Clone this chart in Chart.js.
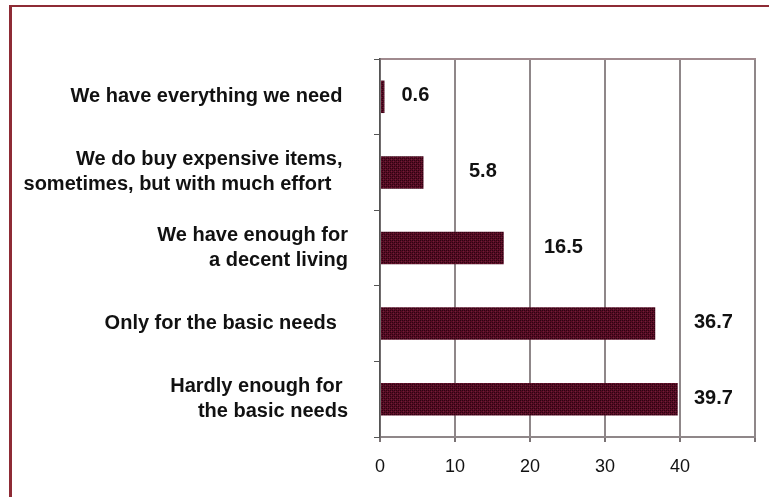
<!DOCTYPE html>
<html>
<head>
<meta charset="utf-8">
<script src="https://cdn.jsdelivr.net/npm/chart.js@4/dist/chart.umd.min.js"></script>
<style>
  html, body { margin: 0; padding: 0; background: #fff; }
  #wrap { position: relative; width: 769px; height: 497px; overflow: hidden; }
  #frame {
    position: absolute; left: 9px; top: 5px; right: -10px; bottom: -10px;
    border-left: 3px solid #8e2b35; border-top: 2px solid #8e2b35;
  }
  #c { position: absolute; left: 0; top: 0; }
</style>
</head>
<body>
<div id="wrap">
  <div id="frame"></div>
  <canvas id="c" width="769" height="497"></canvas>
</div>
<script>
// Survey answers (top to bottom) and the share of respondents, in %
const categories = [
  ['We have everything we need '],
  ['We do buy expensive items, ', 'sometimes, but with much effort   '],
  ['We have enough for', 'a decent living'],
  ['Only for the basic needs  '],
  ['Hardly enough for ', 'the basic needs']
];
const values = [0.6, 5.8, 16.5, 36.7, 39.7];
const xTickLabels = [0, 10, 20, 30, 40];
const xMax = 50;

const FONT = '"Liberation Sans", Arial, Helvetica, sans-serif';

// Dotted maroon fill for the bars
function makeBarPattern() {
  const p = document.createElement('canvas');
  p.width = 4; p.height = 4;
  const g = p.getContext('2d');
  g.fillStyle = '#560b23';
  g.fillRect(0, 0, 4, 4);
  g.fillStyle = '#2c0411';
  g.fillRect(0, 0, 1, 1); g.fillRect(2, 2, 1, 1);
  g.fillRect(2, 0, 1, 1); g.fillRect(0, 2, 1, 1);
  g.fillStyle = '#6e1f38';
  g.fillRect(1, 1, 1, 1); g.fillRect(3, 3, 1, 1);
  return g.createPattern(p, 'repeat');
}

const ctx = document.getElementById('c').getContext('2d');

// Value labels: pushed past the next gridline when it is close to the bar end
const valueLabels = {
  id: 'valueLabels',
  afterDatasetsDraw(chart) {
    const c = chart.ctx;
    const xs = chart.scales.x;
    const meta = chart.getDatasetMeta(0);
    c.save();
    c.font = 'bold 20px ' + FONT;
    c.fillStyle = '#111';
    c.textAlign = 'left';
    c.textBaseline = 'middle';
    meta.data.forEach((bar, i) => {
      const v = values[i];
      const end = xs.getPixelForValue(v);
      const grid = xs.getPixelForValue(Math.ceil(v / 10) * 10);
      const x = (grid - end < 40) ? grid + 14 : end + 17;
      c.fillText(String(v), x, bar.y - 1);
    });
    c.restore();
  }
};

new Chart(ctx, {
  type: 'bar',
  data: {
    labels: categories,
    datasets: [{
      data: values,
      backgroundColor: makeBarPattern(),
      borderWidth: 0,
      categoryPercentage: 1,
      barPercentage: 0.43
    }]
  },
  options: {
    indexAxis: 'y',
    responsive: false,
    animation: false,
    events: [],
    layout: { padding: { top: 59, right: 14, left: 0, bottom: 0 } },
    plugins: { legend: { display: false }, tooltip: { enabled: false } },
    scales: {
      x: {
        type: 'linear',
        position: 'bottom',
        min: 0,
        max: xMax,
        afterBuildTicks(scale) {
          scale.ticks = xTickLabels.concat([xMax]).map(v => ({ value: v }));
        },
        afterFit(scale) { scale.height = 60; },
        ticks: {
          padding: 14,
          color: '#111',
          font: { family: FONT, size: 18 },
          callback: (v) => xTickLabels.includes(v) ? String(v) : ''
        },
        grid: {
          color: '#8f8789',
          lineWidth: 2,
          tickLength: 5,
          tickColor: '#7a7274'
        },
        border: { display: true, color: '#8f8789', width: 2 }
      },
      x2: {
        type: 'linear',
        position: 'top',
        min: 0,
        max: xMax,
        ticks: { display: false },
        grid: { display: false, drawTicks: false },
        border: { display: true, color: '#a08a8e', width: 2, dash: [3, 2] }
      },
      y: {
        type: 'category',
        position: 'left',
        offset: true,
        afterFit(scale) { scale.width = 380; },
        ticks: {
          padding: 26,
          color: '#111',
          font: { family: FONT, size: 20, weight: 'bold', lineHeight: 1.25 }
        },
        grid: {
          offset: true,
          drawOnChartArea: false,
          tickLength: 6,
          color: '#555'
        },
        border: { display: true, color: '#555', width: 1.5 }
      }
    }
  },
  plugins: [valueLabels]
});
</script>
</body>
</html>
